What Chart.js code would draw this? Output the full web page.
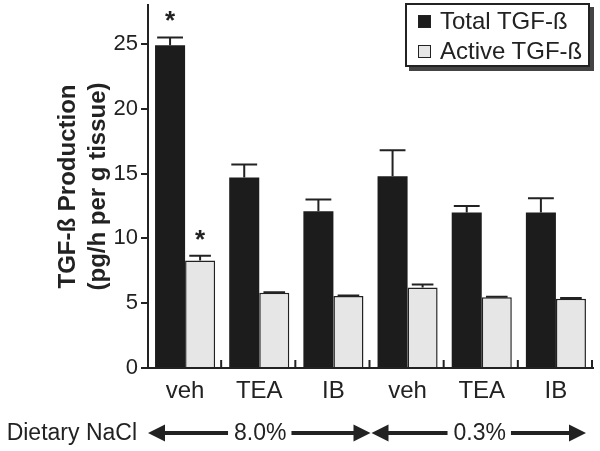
<!DOCTYPE html>
<html lang="en">
<head>
  <meta charset="UTF-8">
  <title>TGF-ß Production</title>
  <script src="https://cdn.jsdelivr.net/npm/chart.js@4.4.0/dist/chart.umd.min.js"></script>
  <style>
    html, body { margin: 0; padding: 0; background: #fff; }
    .wrap { position: relative; width: 600px; height: 451px; }
    .legend {
      position: absolute;
      left: 405px;
      top: 3px;
      width: 181px;
      height: 59px;
      padding-top: 1px;
      box-sizing: content-box;
      border: 2px solid #222;
      background: #fff;
      box-shadow: 4px 4px 0 #444;
      font-family: 'Liberation Sans', Arial, sans-serif;
      font-size: 24px;
      color: #222;
    }
    .legend .item { display: flex; align-items: center; height: 30px; padding-left: 11px; white-space: nowrap; }
    .legend .swatch { width: 13px; height: 13px; margin-right: 9px; box-sizing: border-box; flex: none; }
  </style>
</head>
<body>
  <div class="wrap">
    <canvas id="chart" width="600" height="451"></canvas>
    <div class="legend" id="legend"></div>
  </div>

  <script>
    // data
    const categories = ['veh', 'TEA', 'IB', 'veh', 'TEA', 'IB'];
    const totalValues = [24.9, 14.7, 12.1, 14.8, 12.0, 12.0];
    const totalErrors = [0.6, 1.0, 0.9, 2.0, 0.5, 1.1];
    const activeValues = [8.3, 5.8, 5.55, 6.2, 5.45, 5.35];
    const activeErrors = [0.35, 0.05, 0.05, 0.25, 0.05, 0.05];
    const totalSignif = [true, false, false, false, false, false];
    const activeSignif = [true, false, false, false, false, false];
    const yTicks = [0, 5, 10, 15, 20, 25];
    const dietGroups = ['8.0%', '0.3%'];
    const dietLabel = 'Dietary NaCl';

    const FONT = "'Liberation Sans', Arial, sans-serif";
    const INK = '#222';

    // error bars, asterisks, inner x ticks and the diet arrows
    const extras = {
      id: 'extras',
      afterDatasetsDraw(chart) {
        const ctx = chart.ctx;
        const xs = chart.scales.x;
        const ys = chart.scales.y;
        const errs = [totalErrors, activeErrors];
        const sig = [totalSignif, activeSignif];
        const caps = [0.43, 0.36];

        ctx.save();
        ctx.strokeStyle = INK;
        ctx.fillStyle = INK;
        ctx.lineWidth = 2;
        chart.data.datasets.forEach((ds, di) => {
          const meta = chart.getDatasetMeta(di);
          meta.data.forEach((bar, i) => {
            const v = ds.data[i];
            const top = ys.getPixelForValue(v + errs[di][i]);
            const base = ys.getPixelForValue(v);
            const cap = bar.width * caps[di];
            ctx.beginPath();
            ctx.moveTo(bar.x, base);
            ctx.lineTo(bar.x, top);
            ctx.moveTo(bar.x - cap, top);
            ctx.lineTo(bar.x + cap, top);
            ctx.stroke();
            if (sig[di][i]) {
              ctx.font = 'bold 26px ' + FONT;
              ctx.textAlign = 'center';
              ctx.textBaseline = 'alphabetic';
              ctx.fillText('*', bar.x, top - 8);
            }
          });
        });

        // small upward ticks at the group boundaries
        const step = (xs.right - xs.left) / categories.length;
        ctx.beginPath();
        for (let i = 1; i <= categories.length; i++) {
          const x = xs.left + step * i - 1;
          ctx.moveTo(x, ys.bottom);
          ctx.lineTo(x, ys.bottom - 8);
        }
        ctx.stroke();

        // dietary NaCl arrows
        const y = 433;
        ctx.font = '23px ' + FONT;
        ctx.textBaseline = 'middle';
        ctx.textAlign = 'right';
        ctx.fillStyle = INK;
        ctx.fillText(dietLabel, 137, y + 1);

        const mid = xs.left + step * 3;
        const spans = [[xs.left, mid], [mid + 1, xs.right - 7]];
        spans.forEach((sp, k) => {
          const [a, b] = sp;
          const c = (a + b) / 2;
          const tw = ctx.measureText(dietGroups[k]).width;
          ctx.textAlign = 'center';
          ctx.fillText(dietGroups[k], c + 1, y + 1);
          ctx.lineWidth = 4;
          ctx.beginPath();
          ctx.moveTo(a + 12, y);
          ctx.lineTo(c - tw / 2 - 5, y);
          ctx.moveTo(c + tw / 2 + 6, y);
          ctx.lineTo(b - 12, y);
          ctx.stroke();
          ctx.beginPath();
          ctx.moveTo(a, y);
          ctx.lineTo(a + 17, y - 8.5);
          ctx.lineTo(a + 17, y + 8.5);
          ctx.closePath();
          ctx.moveTo(b, y);
          ctx.lineTo(b - 17, y - 8.5);
          ctx.lineTo(b - 17, y + 8.5);
          ctx.closePath();
          ctx.fill();
        });
        ctx.restore();
      }
    };

    const chart = new Chart(document.getElementById('chart'), {
      type: 'bar',
      data: {
        labels: categories,
        datasets: [{
          label: 'Total TGF-ß',
          data: totalValues,
          backgroundColor: '#1c1c1c',
          borderColor: '#1c1c1c',
          borderWidth: 0
        }, {
          label: 'Active TGF-ß',
          data: activeValues,
          backgroundColor: '#e6e6e6',
          borderColor: INK,
          borderWidth: 1.5,
          borderSkipped: 'bottom'
        }]
      },
      options: {
        responsive: false,
        animation: false,
        events: [],
        layout: { padding: { left: 0, right: 7, top: 5, bottom: 0 } },
        datasets: { bar: { categoryPercentage: 0.81, barPercentage: 1.0 } },
        plugins: {
          legend: { display: false },
          tooltip: { enabled: false }
        },
        scales: {
          x: {
            afterFit(s) { s.height = 83; s.paddingLeft = 0; s.paddingRight = 0; },
            grid: { display: false },
            border: { display: true, color: INK, width: 2 },
            ticks: { color: INK, padding: 1, font: { family: FONT, size: 24 } }
          },
          y: {
            min: 0,
            max: 28,
            afterFit(s) { s.width = 148; s.paddingTop = 0; s.paddingBottom = 0; },
            afterBuildTicks(s) { s.ticks = yTicks.map(v => ({ value: v })); },
            grid: { drawOnChartArea: false, tickLength: 7, color: INK, lineWidth: 2 },
            border: { display: true, color: INK, width: 2 },
            ticks: { color: INK, padding: 3, font: { family: FONT, size: 22 } },
            title: {
              display: true,
              text: ['TGF-ß Production', '(pg/h per g tissue)'],
              color: INK,
              padding: { top: 53, bottom: 0 },
              font: { family: FONT, size: 24, weight: 'bold', lineHeight: 1.25 }
            }
          }
        }
      },
      plugins: [extras]
    });

    // legend built from the datasets
    const legend = document.getElementById('legend');
    chart.data.datasets.forEach(ds => {
      const item = document.createElement('div');
      item.className = 'item';
      const sw = document.createElement('span');
      sw.className = 'swatch';
      sw.style.background = ds.backgroundColor;
      sw.style.border = '1.5px solid ' + INK;
      item.appendChild(sw);
      item.appendChild(document.createTextNode(ds.label));
      legend.appendChild(item);
    });
  </script>
</body>
</html>
